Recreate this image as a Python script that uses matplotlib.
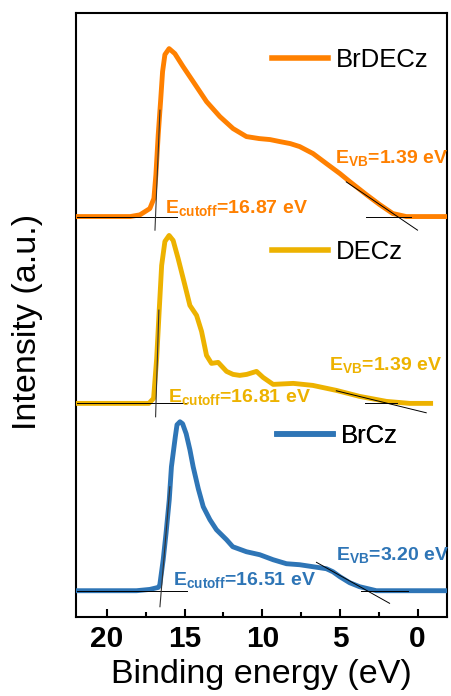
import numpy as np
import matplotlib
matplotlib.use("Agg")
import matplotlib.pyplot as plt
from matplotlib.ticker import MultipleLocator
from matplotlib.lines import Line2D

plt.rcParams["font.family"] = ["Liberation Sans", "DejaVu Sans"]
plt.rcParams["mathtext.fontset"] = "custom"
plt.rcParams["mathtext.bf"] = "Liberation Sans:bold"
plt.rcParams["mathtext.rm"] = "Liberation Sans:bold"
plt.rcParams["mathtext.default"] = "bf"

# --- UPS spectra (binding energy eV, intensity a.u.) ---
brdecz_e = [22.0, 18.5, 17.88, 17.24, 16.98, 16.85, 16.70, 16.55, 16.42, 16.27, 16.0, 15.63,
            15.1, 14.45, 13.59, 12.73, 11.88, 11.02, 10.2, 9.5, 8.87, 8.2, 7.59, 6.73, 5.87,
            5.0, 4.37, 3.3, 2.44, 1.59, 0.73, -1.9]
brdecz_i = [0.0, 0.0, 0.017, 0.08, 0.18, 0.42, 0.82, 1.15, 1.45, 1.62, 1.68, 1.63,
            1.50, 1.35, 1.15, 1.00, 0.88, 0.80, 0.78, 0.77, 0.75, 0.73, 0.70, 0.63, 0.53,
            0.43, 0.35, 0.22, 0.12, 0.03, 0.0, 0.0]

decz_e = [22.0, 17.3, 17.0, 16.8, 16.63, 16.48, 16.27, 16.0, 15.74, 15.42, 14.98, 14.66,
          14.23, 13.91, 13.59, 13.27, 12.84, 12.3, 11.88, 11.45, 11.0, 10.37, 9.95, 9.3,
          8.0, 6.75, 5.23, 3.73, 2.0, 0.5, -1.0]
decz_i = [0.0, 0.0, 0.05, 0.45, 0.95, 1.38, 1.62, 1.68, 1.63, 1.45, 1.18, 0.98,
          0.88, 0.72, 0.48, 0.40, 0.41, 0.32, 0.29, 0.28, 0.29, 0.32, 0.26, 0.19,
          0.20, 0.18, 0.13, 0.07, 0.02, 0.0, 0.0]

brcz_e = [22.0, 18.1, 17.24, 16.7, 16.6, 16.38, 16.2, 15.99, 15.85, 15.6, 15.49, 15.3, 15.13,
          14.9, 14.66, 14.45, 14.12, 13.8, 13.37, 12.95, 12.3, 11.9, 11.02, 10.16, 9.3, 8.44,
          7.59, 6.73, 5.87, 5.45, 5.0, 4.37, 3.73, 2.65, -1.9]
brcz_i = [0.0, 0.0, 0.013, 0.033, 0.057, 0.31, 0.57, 0.91, 1.24, 1.54, 1.66, 1.69, 1.67,
          1.57, 1.41, 1.24, 1.02, 0.84, 0.71, 0.61, 0.51, 0.44, 0.39, 0.36, 0.31, 0.27,
          0.26, 0.24, 0.22, 0.19, 0.14, 0.08, 0.04, 0.0, 0.0]

names = ["BrDECz", "DECz", "BrCz"]
colors = ["#FF8000", "#EDB200", "#2E75B6"]
offsets = [3.743, 1.874, 0.0]
cutoff_vals = [16.87, 16.81, 16.51]
vb_vals = [1.39, 1.39, 3.20]

# tangent lines (eV, intensity incl. offset)
cut_lines = [([16.59, 16.91], [4.807, 3.607]), ([16.66, 16.87], [2.807, 1.74]),
             ([15.95, 16.59], [1.04, -0.16])]
base_lines = [([21.93, 15.5], [3.743, 3.743]), ([21.93, 14.86], [1.874, 1.874]),
              ([21.93, 14.86], [0.0, 0.0])]
vb_lines = [([4.59, 0.0], [4.09, 3.607]), ([5.23, -0.56], [2.0, 1.78]),
            ([6.51, 1.8], [0.284, -0.126])]
vb_base = [([3.30, 0.39], [3.743, 3.743]), ([3.41, 1.35], [1.874, 1.874]),
           ([3.67, 0.64], [0.0, 0.0])]

# label anchors (eV, intensity)
cut_txt = [(16.27, 3.777), (16.06, 1.89), (15.74, 0.057)]
vb_txt = [(5.34, 4.277), (5.70, 2.207), (5.23, 0.307)]
leg_pos = [(0.5275, 0.922), (0.5275, 0.604), (0.541, 0.300)]

fig = plt.figure(figsize=(4.52, 6.96), dpi=100)
ax = fig.add_axes([0.168, 0.1135, 0.821, 0.8675])

series = [(brdecz_e, brdecz_i), (decz_e, decz_i), (brcz_e, brcz_i)]
for k, (e, i) in enumerate(series):
    ax.plot(e, np.array(i) + offsets[k], color=colors[k], lw=3.5, solid_capstyle="butt",
            solid_joinstyle="round", zorder=3)
    for ln in (base_lines[k], vb_base[k], vb_lines[k]):
        ax.plot(*ln, color="black", lw=0.7, zorder=4)
    ax.plot(*cut_lines[k], color="#333333", lw=0.8, zorder=4)
    ax.text(*cut_txt[k], "E$_{cutoff}$=%.2f eV" % cutoff_vals[k], color=colors[k],
            fontsize=14, fontweight="bold", va="baseline", ha="left", zorder=5)
    ax.text(*vb_txt[k], "E$_{VB}$=%.2f eV" % vb_vals[k], color=colors[k],
            fontsize=14, fontweight="bold", va="baseline", ha="left", zorder=5)
    leg = ax.legend([Line2D([], [], color=colors[k], lw=4)], [names[k]], frameon=False,
                    loc="center left", bbox_to_anchor=leg_pos[k], borderpad=0,
                    borderaxespad=0, handlelength=2.2, handletextpad=0.3, fontsize=18.5)
    ax.add_artist(leg)

ax.set_xlim(22.0, -1.9)
ax.set_ylim(-0.263, 5.777)
ax.set_yticks([])
ax.xaxis.set_major_locator(MultipleLocator(5))
ax.xaxis.set_minor_locator(MultipleLocator(2.5))
ax.tick_params(axis="x", which="major", direction="in", length=6, width=1.5,
               labelsize=21.5, pad=6)
ax.tick_params(axis="x", which="minor", direction="in", length=3.5, width=1.5)
for lbl in ax.get_xticklabels():
    lbl.set_fontweight("bold")
for s in ax.spines.values():
    s.set_linewidth(1.5)

ax.set_xlabel("Binding energy (eV)", fontsize=24.5, labelpad=4)
ax.set_ylabel("Intensity (a.u.)", fontsize=24.5)
ax.yaxis.set_label_coords(-0.09, 0.488)

fig.savefig("out.png", dpi=100)
